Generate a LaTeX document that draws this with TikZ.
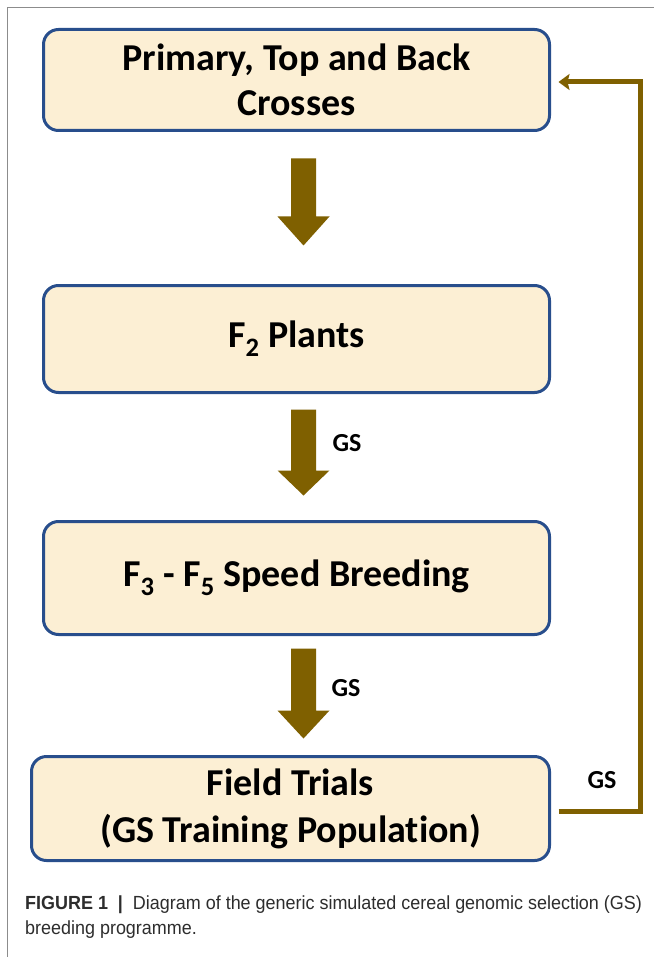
\documentclass[tikz,border=0pt]{standalone}
\usepackage{fontspec}
\setmainfont{Carlito}[Ligatures=NoCommon]
\newfontfamily\capfont[FakeStretch=0.945]{Liberation Sans}
\usetikzlibrary{calc,arrows.meta}
\definecolor{boxfill}{RGB}{252,239,212}
\definecolor{boxline}{RGB}{40,78,140}
\definecolor{arrowcol}{RGB}{127,96,0}
\definecolor{framegray}{RGB}{140,140,140}
\definecolor{captext}{RGB}{45,45,45}
\newcommand\blkarrow[4]{\fill[arrowcol] ($(#1)+(-5.5,#2)$) -- ($(#1)+(19.5,#2)$) -- ($(#1)+(19.5,#3)$) -- ($(#1)+(33,#3)$) -- ($(#1)+(7,#4)$) -- ($(#1)+(-19,#3)$) -- ($(#1)+(-5.5,#3)$) -- cycle;}
\begin{document}
\begin{tikzpicture}[x=1pt,y=-1pt,
  stage/.style={draw=boxline, line width=3pt, fill=boxfill, rounded corners=15pt, align=center,
    font=\bfseries\fontsize{38}{45}\selectfont, inner sep=0pt, outer sep=0pt},
  gslabel/.style={font=\bfseries\fontsize{26}{30}\selectfont, inner sep=0pt},
  flow/.style={draw=arrowcol, line width=5pt, -{Stealth[length=11pt,width=16pt,inset=2pt]}},
  caption/.style={text=captext, font=\capfont\fontsize{19}{25}\selectfont, align=left, inner sep=0pt, anchor=west}]
\useasboundingbox (0,0) rectangle (654,957);
\fill[white] (0,0) rectangle (654,957);
\draw[framegray, line width=1.5pt] (7.5,957) -- (7.5,7.5) -- (654,7.5);

\node[stage, minimum width=506pt, minimum height=101pt] (b1) at (296.5,80) {Primary, Top and Back\\Crosses};
\node[stage, minimum width=506pt, minimum height=107pt] (b2) at (296.5,339) {F\textsubscript{2} Plants};
\node[stage, minimum width=506pt, minimum height=113pt] (b3) at (296.5,578) {F\textsubscript{3} - F\textsubscript{5} Speed Breeding};
\node[stage, font=\bfseries\fontsize{38}{47}\selectfont, minimum width=518pt, minimum height=104pt] (b4) at (290.5,808.5) {Field Trials\\(GS Training Population)};

\blkarrow{b1.south}{28}{86}{115}
\blkarrow{b2.south}{17}{78}{103}
\blkarrow{b3.south}{14}{76}{104}

\node[gslabel] (g1) at (347,443) {GS};
\node[gslabel] (g2) at (346,688) {GS};
\node[gslabel] (g3) at (602,780) {GS};

\coordinate (fbstart) at ($(b4.east)+(9,2.5)$);
\coordinate (fbend) at ($(b1.east)+(9,2)$);
\draw[flow] (fbstart) -- (640,811) -- (640,82) -- (fbend);

\node[caption] (cap) at (25,917) {{\bfseries FIGURE 1\ \ |}\ \ Diagram of the generic simulated cereal genomic selection (GS)\\breeding programme.};
\end{tikzpicture}
\end{document}
